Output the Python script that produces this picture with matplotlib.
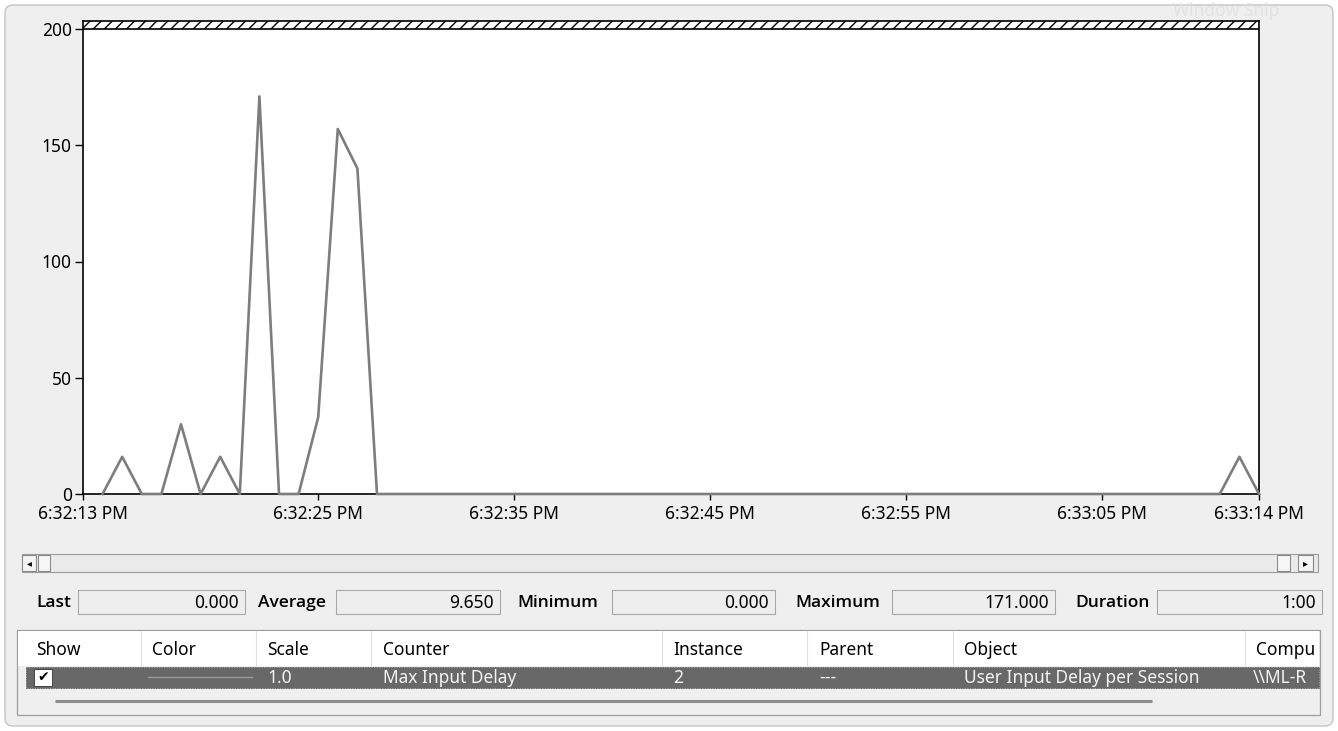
import matplotlib
matplotlib.use("Agg")
import matplotlib.pyplot as plt
from matplotlib.patches import Rectangle, FancyBboxPatch

# sample number (1 s interval) and counter values
sample_idx = list(range(1, 61))
max_input_delay = [0, 16, 0, 0, 30, 0, 16, 0, 171, 0,
                   0, 33, 157, 140, 0, 0, 0, 0, 0, 0,
                   0, 0, 0, 0, 0, 0, 0, 0, 0, 0,
                   0, 0, 0, 0, 0, 0, 0, 0, 0, 0,
                   0, 0, 0, 0, 0, 0, 0, 0, 0, 0,
                   0, 0, 0, 0, 0, 0, 0, 0, 16, 0]

tick_pos = [0, 12, 22, 32, 42, 52, 60]
tick_labels = ["6:32:13 PM", "6:32:25 PM", "6:32:35 PM", "6:32:45 PM",
               "6:32:55 PM", "6:33:05 PM", "6:33:14 PM"]
y_ticks = [0, 50, 100, 150, 200]

stat_names = ["Last", "Average", "Minimum", "Maximum", "Duration"]
stat_values = ["0.000", "9.650", "0.000", "171.000", "1:00"]

col_names = ["Show", "Color", "Scale", "Counter", "Instance", "Parent", "Object", "Compu"]
row_values = ["", "", "1.0", "Max Input Delay", "2", "---",
              "User Input Delay per Session", "\\\\ML-R"]

W, H = 1338, 731
FS = 12.5
plt.rcParams["font.family"] = ["Noto Sans", "DejaVu Sans"]

fig = plt.figure(figsize=(W / 100, H / 100), dpi=100)
fig.patch.set_facecolor("white")

# background "window" layer in pixel coordinates
bg = fig.add_axes([0, 0, 1, 1], zorder=0)
bg.set_xlim(0, W)
bg.set_ylim(H, 0)
bg.axis("off")

bg.add_patch(FancyBboxPatch((5, 5), W - 10, H - 10, boxstyle="round,pad=0,rounding_size=8",
                            facecolor="#efefef", edgecolor="#c4c4c4", lw=1))
bg.text(1173, 11, "Window Snip", color="#e2e2e2", fontsize=FS, va="center", ha="left")

# scrollbar
bg.add_patch(Rectangle((22, 554), 1296, 18, facecolor="#eaeaea", edgecolor="#9c9c9c", lw=0.8))
bg.add_patch(Rectangle((22, 555), 14, 16, facecolor="#f4f4f4", edgecolor="#8a8a8a", lw=0.8))
bg.text(29, 563, "◂", fontsize=7, ha="center", va="center", family="DejaVu Sans")
bg.add_patch(Rectangle((38, 555), 12, 16, facecolor="#f7f7f7", edgecolor="#8a8a8a", lw=0.8))
bg.add_patch(Rectangle((1277, 555), 13, 16, facecolor="#f7f7f7", edgecolor="#8a8a8a", lw=0.8))
bg.add_patch(Rectangle((1298, 555), 15, 16, facecolor="#f4f4f4", edgecolor="#8a8a8a", lw=0.8))
bg.text(1305.5, 563, "▸", fontsize=7, ha="center", va="center", family="DejaVu Sans")

# statistics row
label_x = [36, 258, 517, 795, 1075]
box_x = [(78, 245), (336, 500), (612, 775), (892, 1055), (1157, 1322)]
for name, val, lx, (x0, x1) in zip(stat_names, stat_values, label_x, box_x):
    bg.text(lx, 603, name, fontsize=FS, fontweight="semibold", family=["Open Sans", "DejaVu Sans"],
            ha="left", va="center")
    bg.add_patch(Rectangle((x0, 590), x1 - x0, 24, facecolor="#eeeeee", edgecolor="#a8a8a8", lw=0.8))
    bg.text(x1 - 6, 603, val, fontsize=FS, ha="right", va="center")

# counter table
bg.add_patch(Rectangle((17, 630), 1303, 85, facecolor="#efefef", edgecolor="#9e9e9e", lw=0.9))
bg.add_patch(Rectangle((18, 631), 1301, 35, facecolor="white", edgecolor="none"))
sep_x = [141, 256, 371, 662, 807, 953, 1245]
text_x = [36, 152, 267, 383, 673, 819, 964, 1256]
for name, tx in zip(col_names, text_x):
    bg.text(tx, 650, name, fontsize=FS, ha="left", va="center")
for sx in sep_x:
    bg.plot([sx, sx], [631, 665], color="#e0e0e0", lw=0.8)
bg.add_patch(Rectangle((26, 667), 1293, 21, facecolor="#686868", edgecolor="#4a4a4a", lw=0.6,
                       linestyle=(0, (1, 1))))
bg.add_patch(Rectangle((34, 669), 18, 17, facecolor="white", edgecolor="#333333", lw=0.6))
bg.text(43, 677.5, "✔", fontsize=10, ha="center", va="center", family="DejaVu Sans", color="black")
bg.plot([148, 252], [677, 677], color="#9a9a9a", lw=1.0)
row_x = [0, 0, 267, 383, 673, 819, 964, 1253]
for val, rx in zip(row_values, row_x):
    if val:
        bg.text(rx, 678, val, fontsize=FS, ha="left", va="center", color="#f4f4f4")
bg.plot([55, 1152], [701, 701], color="#8c8c8c", lw=2.2, solid_capstyle="butt")

# main graph
left, right, top, bottom = 83, 1259, 21, 494
ax = fig.add_axes([left / W, (H - bottom) / H, (right - left) / W, (bottom - top) / H], zorder=1)
ax.set_facecolor("white")
top_val = 200 + (29 - top) * 200 / (bottom - 29)
ax.set_xlim(0, 60)
ax.set_ylim(0, top_val)
ax.axhspan(200, top_val, facecolor="white", edgecolor="black", hatch="///", lw=0)
ax.axhline(200, color="black", lw=1.2)

ax.plot(sample_idx, max_input_delay, color="#7d7d7d", lw=1.9, zorder=3, clip_on=False)

for s in ax.spines.values():
    s.set_color("black")
    s.set_linewidth(1.2)

ax.set_yticks(y_ticks)
ax.set_yticklabels([str(v) for v in y_ticks])
ax.set_xticks(tick_pos)
ax.set_xticklabels(tick_labels)
ax.tick_params(axis="y", direction="out", length=6, width=1, pad=2, labelsize=FS)
ax.tick_params(axis="x", direction="out", length=4, width=1, pad=4, labelsize=FS)

fig.savefig("out.png", dpi=100, facecolor=fig.get_facecolor())
